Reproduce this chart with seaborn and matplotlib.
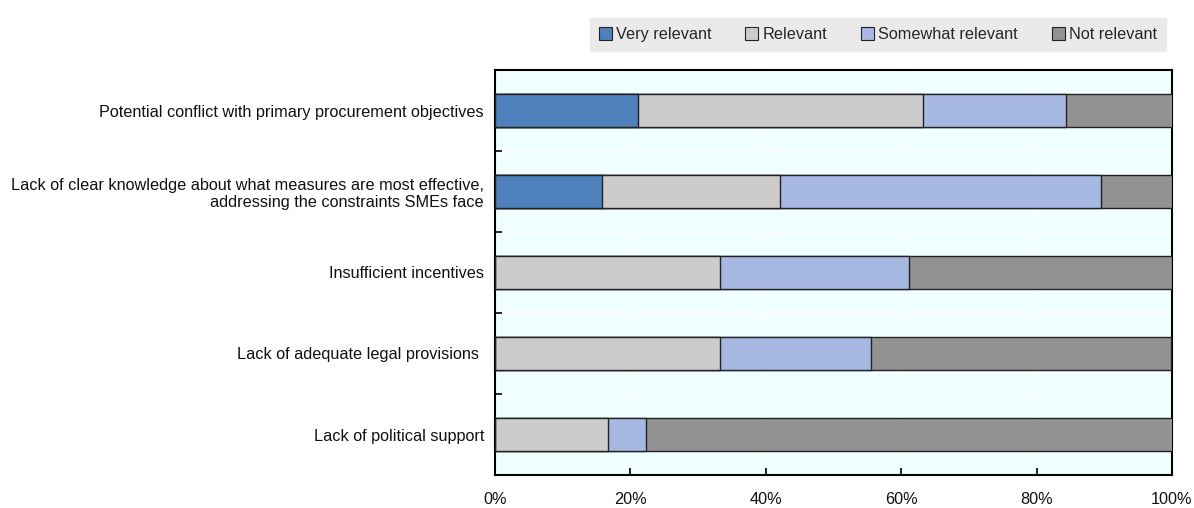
import matplotlib
matplotlib.use("Agg")
import matplotlib.pyplot as plt
import seaborn as sns
import numpy as np
import pandas as pd
from matplotlib.patches import Patch

categories = [
    "Potential conflict with primary procurement objectives",
    "Lack of clear knowledge about what measures are most effective,\naddressing the constraints SMEs face",
    "Insufficient incentives",
    "Lack of adequate legal provisions ",
    "Lack of political support",
]
series_names = ["Very relevant", "Relevant", "Somewhat relevant", "Not relevant"]
very_relevant = [21.1, 15.8, 0.0, 0.0, 0.0]
relevant = [42.1, 26.3, 33.3, 33.3, 16.7]
somewhat_relevant = [21.1, 47.4, 27.8, 22.2, 5.6]
not_relevant = [15.8, 10.5, 38.9, 44.4, 77.8]
x_ticks = [0, 20, 40, 60, 80, 100]
x_tick_labels = ["0%", "20%", "40%", "60%", "80%", "100%"]
colors = ["#4F81BD", "#CCCCCC", "#A7B9E3", "#929292"]

sns.set_theme(style="white")
fam = ["Liberation Sans Narrow", "Liberation Sans", "DejaVu Sans"]
plt.rcParams["font.family"] = fam

fig = plt.figure(figsize=(11.94, 5.08), dpi=100)
ax = fig.add_axes([495 / 1194, 1 - 475 / 508, (1172 - 495) / 1194, (475 - 70) / 508])
ax.set_facecolor("#F0FFFF")

series = [very_relevant, relevant, somewhat_relevant, not_relevant]
cum = np.cumsum(np.array(series), axis=0)
for i in range(len(series) - 1, -1, -1):
    df = pd.DataFrame({"cat": categories, "val": cum[i]})
    sns.barplot(data=df, y="cat", x="val", orient="h", color=colors[i],
                width=0.4, edgecolor="#222222", linewidth=1.0, ax=ax,
                saturation=1, zorder=3)

fs = 11.7
ax.set_xlim(0, 100)
ax.set_ylim(len(categories) - 0.5, -0.5)
ax.set_xlabel("")
ax.set_ylabel("")
ax.set_xticks(x_ticks)
ax.set_xticklabels(x_tick_labels, fontsize=fs, color="#111111")
ax.set_yticks(range(len(categories)))
ax.set_yticklabels(categories, fontsize=fs, color="#111111", multialignment="right")
ax.set_yticks(np.arange(0.5, len(categories) - 0.5, 1), minor=True)
ax.tick_params(axis="y", which="major", length=0, pad=8, left=True)
ax.tick_params(axis="y", which="minor", length=5, width=1.2, direction="in",
               color="black", left=True)
ax.tick_params(axis="x", which="major", length=5, width=1.2, direction="in",
               color="black", pad=12, bottom=True)
ax.grid(True, axis="x", which="major", color="white", linewidth=1.0, zorder=0)
ax.grid(True, axis="y", which="minor", color="white", linewidth=1.0, zorder=0)
ax.set_axisbelow(True)
for s in ax.spines.values():
    s.set_visible(True)
    s.set_color("black")
    s.set_linewidth(1.5)

handles = [Patch(facecolor=c, edgecolor="#222222", linewidth=0.8) for c in colors]
leg = fig.legend(handles, series_names, loc="upper right", ncol=4,
                 bbox_to_anchor=(1174 / 1194, 1 - 10 / 508), frameon=True,
                 fancybox=False, fontsize=fs, handlelength=0.8, handleheight=0.8,
                 handletextpad=0.25, columnspacing=2.1, borderpad=0.55)
leg.get_frame().set_facecolor("#EAEAEA")
leg.get_frame().set_edgecolor("#EAEAEA")
leg.get_frame().set_alpha(1)

fig.savefig("out.png", dpi=100, facecolor="white")
